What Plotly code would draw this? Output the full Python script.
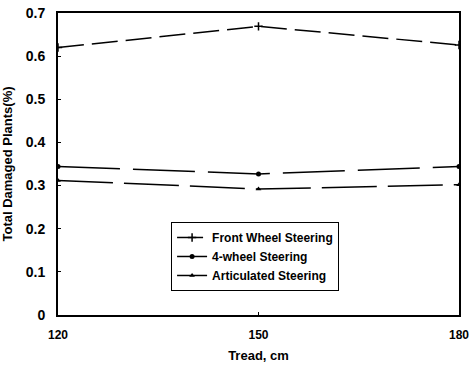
import plotly.graph_objects as go

tread = [120, 150, 180]
front_wheel = [0.620, 0.669, 0.626]
four_wheel = [0.344, 0.327, 0.344]
articulated = [0.312, 0.292, 0.302]
y_ticks = [0, 0.1, 0.2, 0.3, 0.4, 0.5, 0.6, 0.7]
y_tick_labels = ["0", "0.1", "0.2", "0.3", "0.4", "0.5", "0.6", "0.7"]
x_ticks = [120, 150, 180]

FONT = "Liberation Sans, Arial, sans-serif"

fig = go.Figure()
fig.add_trace(go.Scatter(x=tread, y=front_wheel, name="Front Wheel Steering",
                         mode="lines+markers",
                         line=dict(color="black", width=1.5, dash="26px,8px"),
                         marker=dict(symbol="cross-thin", size=6, line=dict(color="black", width=1.5))))
fig.add_trace(go.Scatter(x=tread, y=four_wheel, name="4-wheel Steering",
                         mode="lines+markers",
                         line=dict(color="black", width=1.5, dash="62px,13px"),
                         marker=dict(symbol="circle", size=5, color="black")))
fig.add_trace(go.Scatter(x=tread, y=articulated, name="Articulated Steering",
                         mode="lines+markers",
                         line=dict(color="black", width=1.5, dash="55px,11px"),
                         marker=dict(symbol="triangle-up", size=5, color="black")))

fig.update_layout(
    width=469, height=369,
    margin=dict(l=58, r=10, t=13, b=54),
    paper_bgcolor="white", plot_bgcolor="white",
    font=dict(family=FONT, color="black", size=13),
    showlegend=True,
    legend=dict(x=0.282, y=0.308, xanchor="left", yanchor="top",
                bgcolor="white", bordercolor="black", borderwidth=1,
                font=dict(family=FONT, size=12, color="black", weight="bold"),
                itemwidth=30, tracegroupgap=0),
    xaxis=dict(range=[120, 180], tickvals=x_ticks, ticktext=[str(v) for v in x_ticks],
               showgrid=False, zeroline=False, showline=True, linecolor="black", linewidth=2,
               mirror=True, ticks="inside", ticklen=3, tickcolor="black", automargin=False,
               ticklabeloverflow="allow", ticklabelstandoff=8,
               tickfont=dict(family=FONT, size=12, weight="bold"),
               title=dict(text="Tread, cm", font=dict(family=FONT, size=13, weight="bold"), standoff=9)),
    yaxis=dict(range=[0, 0.7], tickvals=y_ticks, ticktext=y_tick_labels,
               showgrid=False, zeroline=False, showline=True, linecolor="black", linewidth=2,
               mirror=True, ticks="inside", ticklen=3, tickcolor="black", automargin=False,
               ticklabeloverflow="allow", ticklabelstandoff=8,
               tickfont=dict(family=FONT, size=14, weight="bold"),
               title=dict(text="Total Damaged Plants(%)", font=dict(family=FONT, size=13, weight="bold"), standoff=13)),
)

fig.write_html("out.html",
               config={"displayModeBar": False},
               post_script="document.body.style.margin='0';document.body.style.overflow='hidden';")
